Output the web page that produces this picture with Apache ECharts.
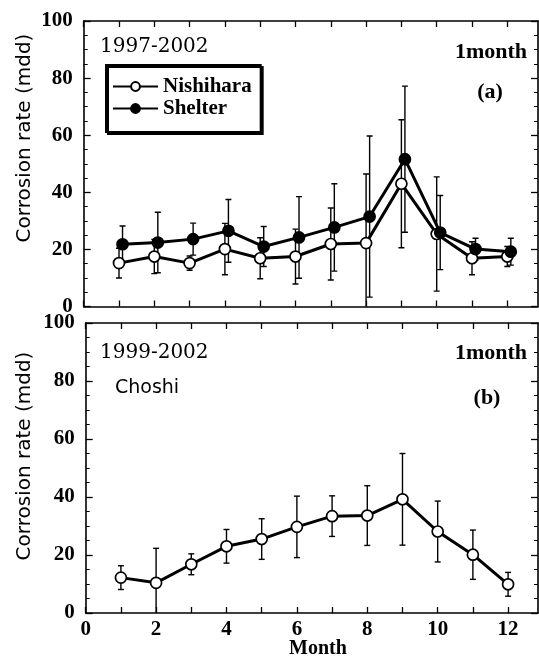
<!DOCTYPE html>
<html>
<head>
<meta charset="utf-8">
<script src="https://cdn.jsdelivr.net/npm/echarts@6/dist/echarts.min.js"></script>
<style>
  html, body { margin: 0; padding: 0; background: #fff; }
  #chart { width: 539px; height: 658px; }
</style>
</head>
<body>
<div id="chart"></div>
<script>
// Monthly corrosion rates (mdd), mean and standard deviation per month
const months = [1, 2, 3, 4, 5, 6, 7, 8, 9, 10, 11, 12];

const nishiharaRate = [15.2, 17.5, 15.2, 20.1, 16.9, 17.5, 21.9, 22.2, 43.0, 25.4, 16.9, 17.5];
const nishiharaErr  = [5.2, 6.0, 2.5, 9.0, 7.2, 9.6, 12.6, 24.2, 22.4, 20.0, 5.8, 3.5];

const shelterRate = [21.8, 22.4, 23.6, 26.5, 21.0, 24.2, 27.7, 31.5, 51.6, 25.9, 20.1, 19.2];
const shelterErr  = [6.4, 10.6, 5.6, 11.0, 7.0, 14.3, 15.3, 28.2, 25.6, 13.0, 3.8, 4.7];

const choshiRate = [12.2, 10.4, 16.8, 23.0, 25.5, 29.7, 33.4, 33.6, 39.2, 28.1, 20.1, 9.9];
const choshiErr  = [4.1, 11.9, 3.6, 5.8, 7.0, 10.6, 7.0, 10.3, 15.8, 10.5, 8.5, 4.1];

const monthTicks = [0, 2, 4, 6, 8, 10, 12];
const rateTicks = [0, 20, 40, 60, 80, 100];

// the shelter series is drawn slightly to the right so the two sets of bars stay apart
const shelterShift = 0.1;

const serif = '"Liberation Serif", "Times New Roman", serif';
const sans = '"DejaVu Sans", sans-serif';

function points(rates, shift) {
  return months.map((m, i) => [m + shift, rates[i]]);
}
function bars(rates, errs, shift) {
  return months.map((m, i) => [m + shift, rates[i] - errs[i], rates[i] + errs[i]]);
}

function errorBarItem(params, api) {
  const x = api.value(0);
  const top = api.coord([x, api.value(2)]);
  const bot = api.coord([x, api.value(1)]);
  const w = 3;
  const style = { stroke: '#000', lineWidth: 1.4, fill: null };
  return {
    type: 'group',
    children: [
      { type: 'line', shape: { x1: top[0], y1: top[1], x2: bot[0], y2: bot[1] }, style: style },
      { type: 'line', shape: { x1: top[0] - w, y1: top[1], x2: top[0] + w, y2: top[1] }, style: style },
      { type: 'line', shape: { x1: bot[0] - w, y1: bot[1], x2: bot[0] + w, y2: bot[1] }, style: style }
    ]
  };
}

const axisLine = { show: true, onZero: false, lineStyle: { color: '#000', width: 1.6 } };
const tickLabelStyle = { color: '#000', fontFamily: serif, fontWeight: 'bold', fontSize: 21 };

function xAxisDef(gridIndex, position, max, showLabels) {
  return {
    type: 'value', gridIndex: gridIndex, position: position,
    min: 0, max: max,
    axisLine: axisLine,
    axisTick: { show: true, inside: true, length: 6, lineStyle: { color: '#000', width: 1.3 },
                customValues: months.concat([0]) },
    axisLabel: { show: showLabels, margin: 6, customValues: monthTicks, ...tickLabelStyle },
    splitLine: { show: false }
  };
}
function yAxisDef(gridIndex, position, showLabels) {
  return {
    type: 'value', gridIndex: gridIndex, position: position,
    min: 0, max: 100, interval: 20,
    axisLine: axisLine,
    axisTick: { show: true, inside: true, length: 7, lineStyle: { color: '#000', width: 1.3 } },
    minorTick: { show: true, splitNumber: 4, length: 4, lineStyle: { color: '#000', width: 1 } },
    axisLabel: { show: showLabels, margin: 11, customValues: rateTicks, ...tickLabelStyle },
    splitLine: { show: false },
    minorSplitLine: { show: false }
  };
}

function text(str, x, y, font, opts) {
  return {
    type: 'text', x: x, y: y, silent: true,
    style: Object.assign({
      text: str, fill: '#000',
      fontFamily: font.family, fontSize: font.size, fontWeight: font.weight || 'normal',
      textAlign: 'left', textVerticalAlign: 'middle', align: 'left', verticalAlign: 'middle'
    }, opts || {})
  };
}

const chart = echarts.init(document.getElementById('chart'), null, { renderer: 'canvas' });

const lineStyle = { color: '#000', width: 3 };

chart.setOption({
  animation: false,
  backgroundColor: '#fff',
  grid: [
    { left: 83.7, top: 21, width: 454.3, height: 285.5 },
    { left: 85.7, top: 323, width: 452.3, height: 290 }
  ],
  xAxis: [
    xAxisDef(0, 'bottom', 12.87, false),
    xAxisDef(0, 'top', 12.87, false),
    xAxisDef(1, 'bottom', 12.85, true),
    xAxisDef(1, 'top', 12.85, false)
  ],
  yAxis: [
    yAxisDef(0, 'left', true),
    yAxisDef(0, 'right', false),
    yAxisDef(1, 'left', true),
    yAxisDef(1, 'right', false)
  ],
  legend: {
    data: ['Nishihara', 'Shelter'],
    orient: 'vertical',
    left: 106, top: 65,
    padding: [11, 9, 13, 6],
    itemGap: 1,
    itemWidth: 45, itemHeight: 11,
    selectedMode: false,
    backgroundColor: '#fff',
    borderColor: '#000', borderWidth: 2,
    shadowColor: '#000', shadowBlur: 0, shadowOffsetX: 2, shadowOffsetY: 2,
    textStyle: { color: '#000', fontFamily: serif, fontWeight: 'bold', fontSize: 21 }
  },
  series: [
    {
      name: 'Nishihara bars', type: 'custom', xAxisIndex: 0, yAxisIndex: 0,
      renderItem: errorBarItem, clip: true, silent: true, z: 1,
      data: bars(nishiharaRate, nishiharaErr, 0)
    },
    {
      name: 'Shelter bars', type: 'custom', xAxisIndex: 0, yAxisIndex: 0,
      renderItem: errorBarItem, clip: true, silent: true, z: 1,
      data: bars(shelterRate, shelterErr, shelterShift)
    },
    {
      name: 'Nishihara', type: 'line', xAxisIndex: 0, yAxisIndex: 0, z: 3,
      symbol: 'circle', symbolSize: 11, showAllSymbol: true, silent: true,
      lineStyle: lineStyle,
      itemStyle: { color: '#fff', borderColor: '#000', borderWidth: 1.7 },
      data: points(nishiharaRate, 0)
    },
    {
      name: 'Shelter', type: 'line', xAxisIndex: 0, yAxisIndex: 0, z: 4,
      symbol: 'circle', symbolSize: 11, showAllSymbol: true, silent: true,
      lineStyle: lineStyle,
      itemStyle: { color: '#000', borderColor: '#000', borderWidth: 1.7 },
      data: points(shelterRate, shelterShift)
    },
    {
      name: 'Choshi bars', type: 'custom', xAxisIndex: 2, yAxisIndex: 2,
      renderItem: errorBarItem, clip: true, silent: true, z: 1,
      data: bars(choshiRate, choshiErr, 0)
    },
    {
      name: 'Choshi', type: 'line', xAxisIndex: 2, yAxisIndex: 2, z: 3,
      symbol: 'circle', symbolSize: 11, showAllSymbol: true, silent: true,
      lineStyle: lineStyle,
      itemStyle: { color: '#fff', borderColor: '#000', borderWidth: 1.7 },
      data: points(choshiRate, 0)
    }
  ],
  graphic: [
    Object.assign(text('Corrosion rate (mdd)', 25, 138, { family: sans, size: 20 },
         { textAlign: 'center', align: 'center' }), { rotation: Math.PI / 2 }),
    Object.assign(text('Corrosion rate (mdd)', 25, 456, { family: sans, size: 20 },
         { textAlign: 'center', align: 'center' }), { rotation: Math.PI / 2 }),
    text('1997-2002', 100, 47, { family: '"DejaVu Serif", serif', size: 20 }),
    text('1month', 527, 52, { family: serif, size: 22, weight: 'bold' },
         { textAlign: 'right', align: 'right' }),
    text('(a)', 490, 92, { family: serif, size: 22, weight: 'bold' },
         { textAlign: 'center', align: 'center' }),
    text('1999-2002', 100, 353, { family: '"DejaVu Serif", serif', size: 20 }),
    text('Choshi', 115, 388, { family: sans, size: 19 }),
    text('1month', 527, 353, { family: serif, size: 22, weight: 'bold' },
         { textAlign: 'right', align: 'right' }),
    text('(b)', 487, 398, { family: serif, size: 22, weight: 'bold' },
         { textAlign: 'center', align: 'center' }),
    text('Month', 318, 649, { family: serif, size: 20, weight: 'bold' },
         { textAlign: 'center', align: 'center' })
  ]
});
</script>
</body>
</html>
